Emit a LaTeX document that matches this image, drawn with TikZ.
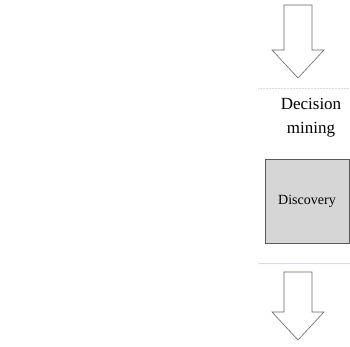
\documentclass[tikz,border=0pt]{standalone}
\usepackage{fontspec}
\setmainfont{Liberation Serif}
\begin{document}
\begin{tikzpicture}[x=1pt,y=-1pt,
  flowarrow/.style={draw=black!60, line width=0.6pt, fill=white, line join=miter},
  framebox/.style={draw=black!15, line width=0.5pt, densely dotted},
  stagebox/.style={draw=black!65, line width=0.8pt, fill=black!16},
  label/.style={font=\fontsize{17}{24}\selectfont, align=center, inner sep=0pt},
  smalllabel/.style={font=\fontsize{14}{16}\selectfont, inner sep=0pt}]
  \useasboundingbox (0,0) rectangle (350,347);
  % incoming arrow
  \draw[flowarrow] (284,5) -- (312,5) -- (312,50) -- (324,50) -- (298,78)
        -- (272,50) -- (284,50) -- cycle;
  % outer stage frame: faint top rule and light blue bottom rule
  \draw[framebox] (258,88) -- (350,88);
  \draw[draw=blue!15, line width=0.8pt] (258,263) -- (350,263);
  % inner discovery box
  \draw[stagebox] (265,159) rectangle (349,243);
  \node[label] (dm) at (311,118) {Decision\\mining};
  \node[smalllabel] (disc) at (307,201) {Discovery};
  % outgoing arrow
  \draw[flowarrow] (284,272) -- (312,272) -- (312,312) -- (324,312) -- (298,340)
        -- (272,312) -- (284,312) -- cycle;
\end{tikzpicture}
\end{document}
